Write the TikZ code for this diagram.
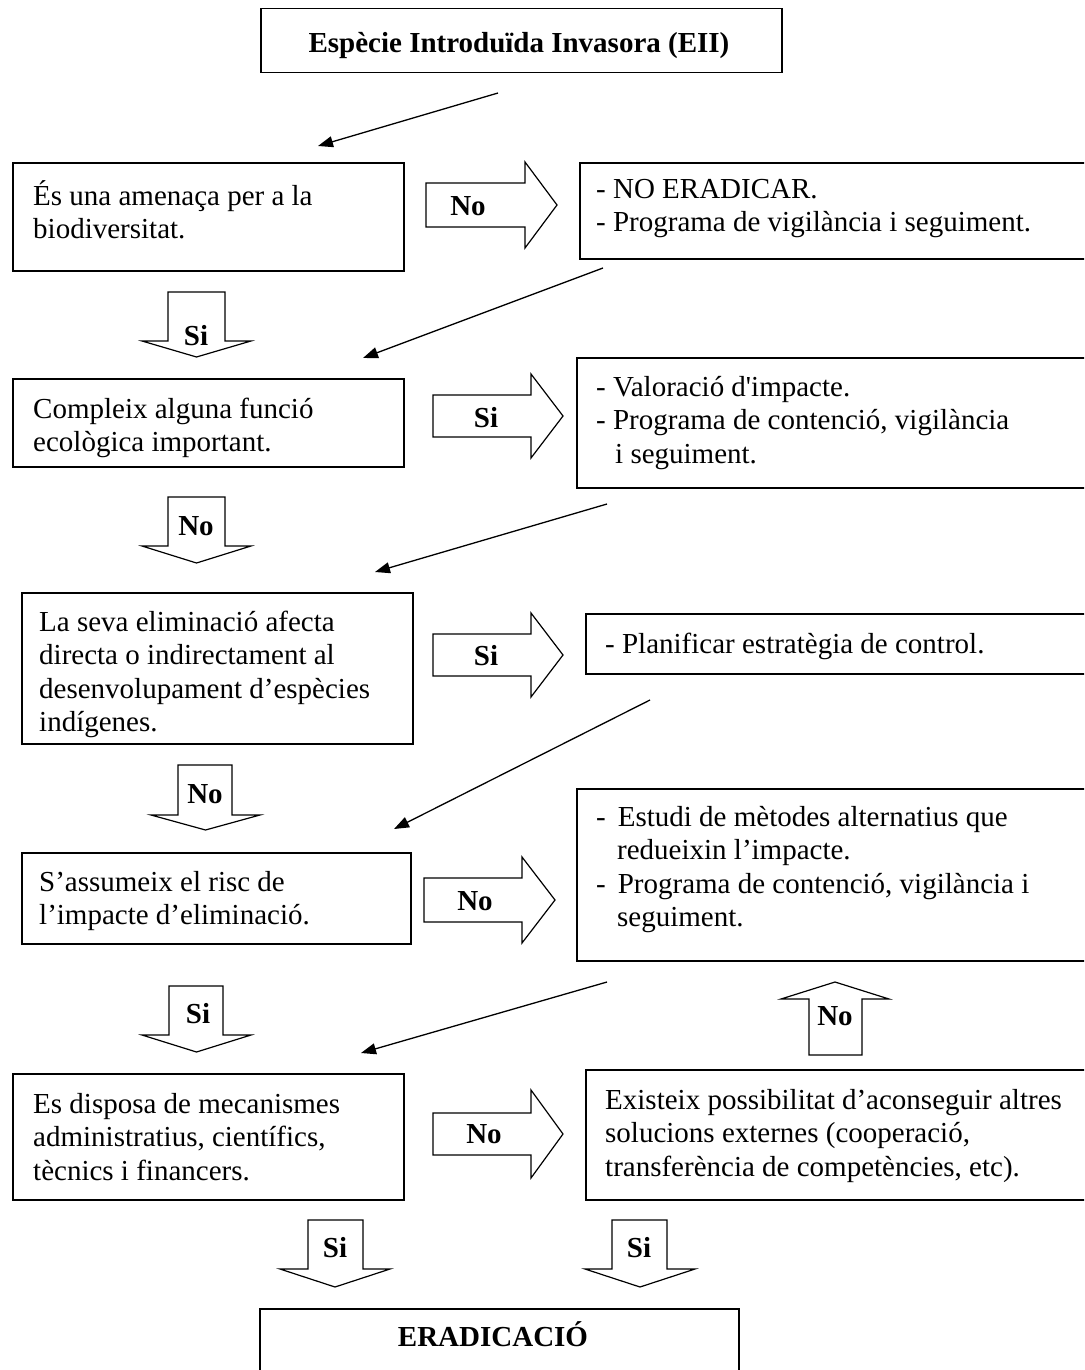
\documentclass[tikz,border=0pt]{standalone}
\usepackage{fontspec}
\newfontfamily\serifont{Liberation Serif}
\usetikzlibrary{arrows.meta}
\newcommand\dfont{\serifont\fontsize{29}{33.5}\selectfont}
\newcommand\fl{\rule{0pt}{29pt}}
\newcommand\RightBlk[6]{% x0 xb xt c hb hh
  \draw[blk] (#1,#4-#5) -- (#2,#4-#5) -- (#2,#4-#6) -- (#3,#4) -- (#2,#4+#6) -- (#2,#4+#5) -- (#1,#4+#5) -- cycle;}
\newcommand\DownBlk[7]{% l r top base hl hr tip
  \draw[blk] (#1,#3) -- (#2,#3) -- (#2,#4) -- (#6,#4) -- ({(#5+#6)/2},#7) -- (#5,#4) -- (#1,#4) -- cycle;}
\begin{document}
\begin{tikzpicture}[x=1pt,y=-1pt,
  box/.style={draw, line width=1.5pt, inner sep=0pt, anchor=north west},
  txt/.style={anchor=north west, align=left, inner sep=0pt, font=\dfont},
  lbl/.style={anchor=base, inner sep=0pt, font=\dfont\bfseries},
  conn/.style={line width=1.3pt, -{Triangle[length=15pt,width=11pt]}},
  blk/.style={draw, line width=1.2pt, fill=white, line join=miter}]
\useasboundingbox (0,0) rectangle (1084,1370);
\clip (0,0) rectangle (1084,1370);

% boxes
\node[box, minimum width=521pt, minimum height=64pt] (tbox) at (260,8) {};
\node[box, minimum width=391pt, minimum height=108pt] (b1) at (12,162) {};
\node[box, minimum width=511pt, minimum height=96pt] (bne) at (579,162) {};
\node[box, minimum width=391pt, minimum height=88pt] (b2) at (12,378) {};
\node[box, minimum width=514pt, minimum height=130pt] (b3) at (576,357) {};
\node[box, minimum width=391pt, minimum height=151pt] (b4) at (21,592) {};
\node[box, minimum width=505pt, minimum height=60pt] (b5) at (585,613) {};
\node[box, minimum width=389pt, minimum height=91pt] (b6) at (21,852) {};
\node[box, minimum width=514pt, minimum height=172pt] (b7) at (576,788) {};
\node[box, minimum width=391pt, minimum height=126pt] (b8) at (12,1073) {};
\node[box, minimum width=505pt, minimum height=130pt] (b9) at (585,1069) {};
\node[box, minimum width=479pt, minimum height=80pt] (ber) at (259,1308) {};

% texts
\node[lbl] (ttitle) at (519,53) {Espècie Introduïda Invasora (EII)};
\node[txt] (t1) at (33,205-29) {\fl És una amenaça per a la\\biodiversitat.};
\node[txt] (tne) at (596,198-29) {\fl- NO ERADICAR.\\- Programa de vigilància i seguiment.};
\node[txt] (t2) at (33,418-29) {\fl Compleix alguna funció\\ecològica important.};
\node[txt] (t3) at (596,396-29) {\fl- Valoració d'impacte.\\- Programa de contenció, vigilància\\\hspace*{19pt}i seguiment.};
\node[txt] (t4) at (39,631-29) {\fl La seva eliminació afecta\\directa o indirectament al\\desenvolupament d’espècies\\indígenes.};
\node[txt] (t5) at (605,653-29) {\fl- Planificar estratègia de control.};
\node[txt] (t6) at (39,891-29) {\fl S’assumeix el risc de\\l’impacte d’eliminació.};
\node[txt] (t7) at (596,826-29) {\fl-\hspace{12pt}Estudi de mètodes alternatius que\\\hspace*{21pt}redueixin l’impacte.\\-\hspace{12pt}Programa de contenció, vigilància i\\\hspace*{21pt}seguiment.};
\node[txt] (t8) at (33,1113-29) {\fl Es disposa de mecanismes\\administratius, científics,\\tècnics i financers.};
\node[txt] (t9) at (605,1109-29) {\fl Existeix possibilitat d’aconseguir altres\\solucions externes (cooperació,\\transferència de competències, etc).};
\node[lbl] (ter) at (493,1346) {ERADICACIÓ};

% block arrows
\RightBlk{426}{525}{557}{205}{22}{43}
\RightBlk{433}{531}{563}{416}{21}{42}
\RightBlk{433}{531}{563}{655}{21}{42}
\RightBlk{424}{522}{555}{900}{22}{43}
\RightBlk{433}{531}{563}{1134}{21}{44}
\DownBlk{168}{225}{292}{341}{142}{251}{357}
\DownBlk{168}{225}{497}{546}{142}{251}{563}
\DownBlk{178}{232}{765}{815}{151}{260}{830}
\DownBlk{169}{223}{986}{1035}{142}{251}{1052}
\DownBlk{809}{862}{1055}{999}{781}{889}{982}
\DownBlk{308}{363}{1220}{1269}{280}{390}{1287}
\DownBlk{612}{667}{1220}{1269}{585}{695}{1287}

% block arrow labels
\node[lbl] (l1) at (468,215) {No};
\node[lbl] (l2) at (486,427) {Si};
\node[lbl] (l3) at (486,665) {Si};
\node[lbl] (l4) at (475,910) {No};
\node[lbl] (l5) at (484,1143) {No};
\node[lbl] (d1) at (196,345) {Si};
\node[lbl] (d2) at (196,535) {No};
\node[lbl] (d3) at (205,803) {No};
\node[lbl] (d4) at (198,1023) {Si};
\node[lbl] (u1) at (835,1025) {No};
\node[lbl] (d5) at (335,1257) {Si};
\node[lbl] (d6) at (639,1257) {Si};

% thin connectors
\coordinate (a1s) at (498,93);  \coordinate (a1e) at (318,146);
\coordinate (a2s) at (603,268); \coordinate (a2e) at (363,358);
\coordinate (a3s) at (607,504); \coordinate (a3e) at (375,572);
\coordinate (a4s) at (650,700); \coordinate (a4e) at (394,829);
\coordinate (a5s) at (607,982); \coordinate (a5e) at (361,1053);
\draw[conn] (a1s) -- (a1e);
\draw[conn] (a2s) -- (a2e);
\draw[conn] (a3s) -- (a3e);
\draw[conn] (a4s) -- (a4e);
\draw[conn] (a5s) -- (a5e);
\end{tikzpicture}
\end{document}
